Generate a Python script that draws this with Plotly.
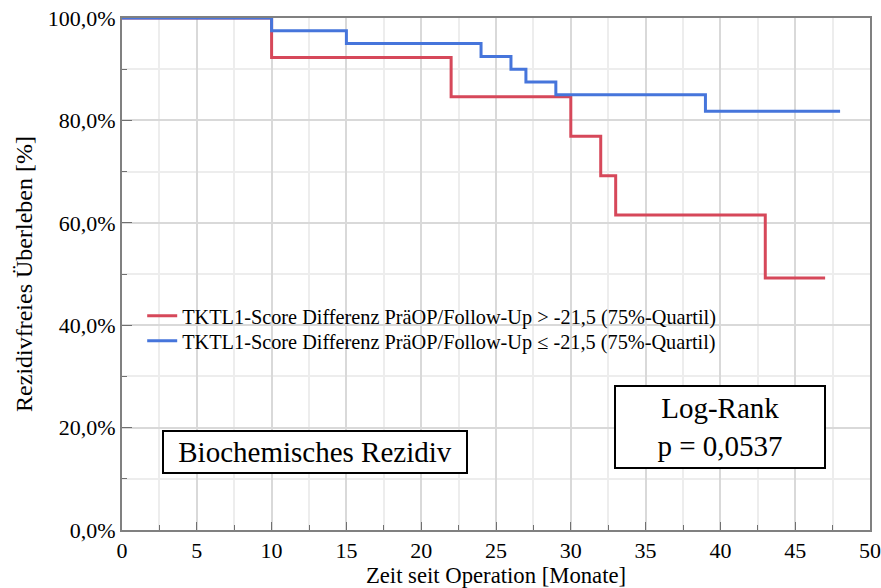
import plotly.graph_objects as go

# Kaplan-Meier step data (months, survival fraction)
red_t = [0, 10, 22, 30, 32, 33, 43, 47]
red_s = [1.0, 0.923, 0.846, 0.769, 0.692, 0.615, 0.492, 0.492]
blue_t = [0, 10, 15, 24, 26, 27, 29, 39, 48]
blue_s = [1.0, 0.975, 0.95, 0.925, 0.90, 0.875, 0.85, 0.818, 0.818]

red_name = "TKTL1-Score Differenz PräOP/Follow-Up > -21,5 (75%-Quartil)"
blue_name = "TKTL1-Score Differenz PräOP/Follow-Up ≤ -21,5 (75%-Quartil)"

FONT = "Liberation Serif, Times New Roman, DejaVu Serif, serif"
RED = "#d6485a"
BLUE = "#4675db"

fig = go.Figure()
fig.add_trace(go.Scatter(x=red_t, y=red_s, mode="lines", line_shape="hv",
                         line=dict(color=RED, width=3), name=red_name,
                         legend="legend", showlegend=True))
fig.add_trace(go.Scatter(x=blue_t, y=blue_s, mode="lines", line_shape="hv",
                         line=dict(color=BLUE, width=3), name=blue_name,
                         legend="legend2", showlegend=True))

leg_common = dict(x=0.027, xanchor="left", yanchor="top", visible=True,
                  bgcolor="rgba(0,0,0,0)", font=dict(family=FONT, size=20.3),
                  itemwidth=30)

fig.update_layout(
    width=881, height=588,
    margin=dict(l=122, r=11, t=18, b=58),
    paper_bgcolor="white", plot_bgcolor="white",
    separators=",.",
    showlegend=True,
    font=dict(family=FONT, size=21, color="black"),
    legend=dict(y=0.457, **leg_common),
    legend2=dict(y=0.408, **leg_common),
    xaxis=dict(range=[0, 50], dtick=5, tick0=0, showgrid=True, automargin=False,
               gridcolor="#d9d9d9", gridwidth=1.5,
               minor=dict(dtick=2.5, showgrid=True, gridcolor="#ededed",
                          ticks="inside", ticklen=5, tickcolor="#707070"),
               ticks="inside", ticklen=8, tickcolor="#707070",
               showline=True, linecolor="#808080", linewidth=2, mirror=True,
               zeroline=False, tickfont=dict(family=FONT, size=22),
               title=dict(text="Zeit seit Operation [Monate]", standoff=0,
                          font=dict(family=FONT, size=22.7))),
    yaxis=dict(range=[0, 1], dtick=0.2, tick0=0, tickformat=".1%", automargin=False,
               showgrid=True, gridcolor="#d9d9d9", gridwidth=1.5,
               minor=dict(dtick=0.1, showgrid=True, gridcolor="#ededed",
                          ticks="inside", ticklen=5, tickcolor="#707070"),
               ticks="inside", ticklen=10, tickcolor="#707070",
               showline=True, linecolor="#808080", linewidth=2, mirror=True,
               zeroline=False, tickfont=dict(family=FONT, size=22),
               title=dict(text="Rezidivfreies Überleben [%]", standoff=8,
                          font=dict(family=FONT, size=24))),
)

fig.add_annotation(x=12.87, y=0.152, xref="x", yref="y",
                   text="Biochemisches Rezidiv", showarrow=False,
                   font=dict(family=FONT, size=29, color="black"),
                   bordercolor="black", borderwidth=2, borderpad=1,
                   bgcolor="white", width=300, height=38)
fig.add_annotation(x=40.0, y=0.202, xref="x", yref="y",
                   text="Log-Rank<br>p = 0,0537", showarrow=False,
                   font=dict(family=FONT, size=29, color="black"),
                   bordercolor="black", borderwidth=2, borderpad=1,
                   bgcolor="white", width=206, height=78)

fig.write_html("out.html", config={"displayModeBar": False},
               post_script="document.body.style.margin='0';document.body.style.overflow='hidden';")
